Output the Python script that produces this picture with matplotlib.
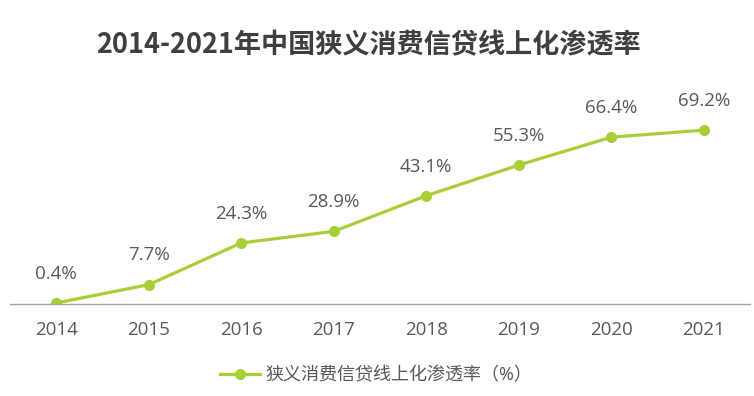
import matplotlib.pyplot as plt

years = ['2014', '2015', '2016', '2017', '2018', '2019', '2020', '2021']
rate = [0.4, 7.7, 24.3, 28.9, 43.1, 55.3, 66.4, 69.2]
series_name = '狭义消费信贷线上化渗透率（%）'
title = '2014-2021年中国狭义消费信贷线上化渗透率'

plt.rcParams['font.family'] = ['Open Sans', 'Noto Sans CJK SC', 'DejaVu Sans']

fig = plt.figure(figsize=(7.54, 3.96), dpi=100)
ax = fig.add_axes([10 / 754, 92 / 396, 740 / 754, 201 / 396])

green = '#a9cf38'
x = range(len(years))
ax.plot(x, rate, color=green, linewidth=2.3, marker='o', markersize=7, label=series_name)

for i, v in enumerate(rate):
    ax.annotate('%.1f%%' % v, (i, v), xytext=(0, 21), textcoords='offset points',
                ha='center', va='center', fontsize=13.5, color='#595959')

ax.set_xlim(-0.5, len(years) - 0.5)
ax.set_ylim(0, 80)
ax.set_xticks(list(x))
ax.set_xticklabels(years, fontsize=13.5, color='#595959')
ax.set_yticks([])
ax.tick_params(axis='x', length=0, pad=12)
for s in ['top', 'left', 'right']:
    ax.spines[s].set_visible(False)
ax.spines['bottom'].set_color('#a6a6a6')
ax.spines['bottom'].set_linewidth(1)

fig.text(368 / 754, 1 - 45 / 396, title, ha='center', va='center', fontsize=19.5,
         fontweight='bold', color='#3f3f3f', family=['Noto Sans CJK SC', 'DejaVu Sans'])

leg = fig.legend(loc='center', bbox_to_anchor=(0.499, 1 - 375 / 396), frameon=False,
                 fontsize=13, handlelength=2.2, handletextpad=0.3)
for t in leg.get_texts():
    t.set_color('#595959')

fig.savefig('out.png', dpi=100)
